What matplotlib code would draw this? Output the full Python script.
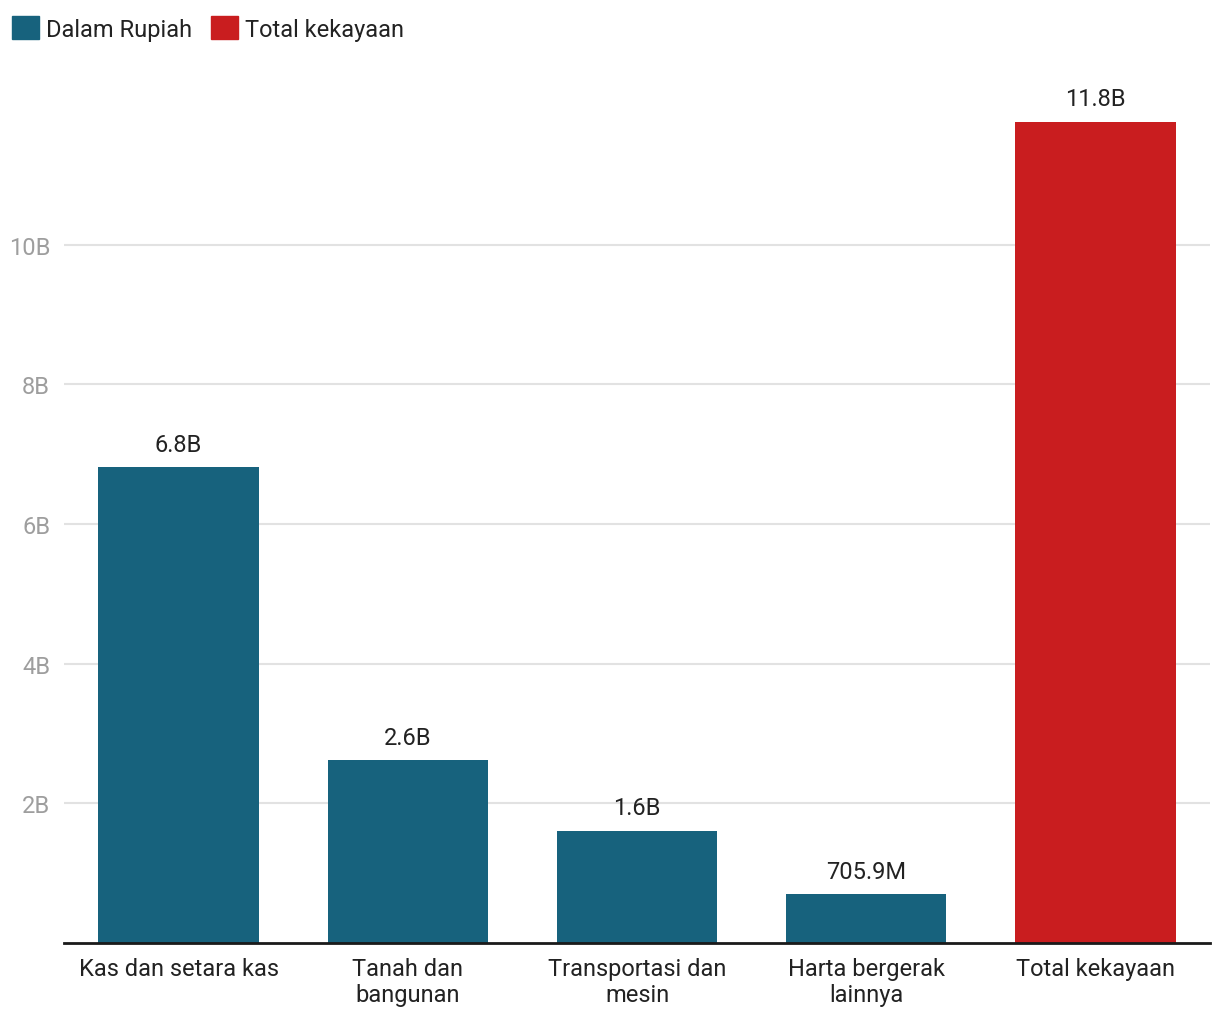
import numpy as np
import matplotlib.pyplot as plt
from matplotlib.patches import Patch

plt.rcParams['font.family'] = ['Roboto', 'DejaVu Sans']

categories = ["Kas dan setara kas", "Tanah dan\nbangunan", "Transportasi dan\nmesin",
              "Harta bergerak\nlainnya", "Total kekayaan"]
values = [6.82, 2.62, 1.61, 0.7059, 11.76]
value_labels = ["6.8B", "2.6B", "1.6B", "705.9M", "11.8B"]
yticks = [2, 4, 6, 8, 10]
ytick_labels = ["2B", "4B", "6B", "8B", "10B"]

blue = "#17627d"
red = "#c91d1f"
colors = [blue, blue, blue, blue, red]

fig = plt.figure(figsize=(12.2, 10.2), dpi=100)
ax = fig.add_axes([0.0525, 0.0745, 0.9393, 0.856])

x = np.arange(len(categories))
ax.bar(x, values, width=0.7, color=colors, zorder=3)
for xi, v, lab in zip(x, values, value_labels):
    ax.annotate(lab, (xi, v), xytext=(0, 8), textcoords="offset points",
                ha="center", va="bottom", fontsize=17, color="#222222")

ax.set_xlim(-0.5, 4.5)
ax.set_ylim(0, 12.5)
ax.set_yticks(yticks)
ax.set_yticklabels(ytick_labels)
ax.set_xticks(x)
ax.set_xticklabels(categories, fontsize=17, color="#222222", linespacing=1.2)
ax.tick_params(axis="y", length=0, pad=10, labelsize=17, labelcolor="#9e9e9e")
ax.tick_params(axis="x", length=0, pad=10)
ax.grid(axis="y", color="#e2e2e2", linewidth=1.5, zorder=0)
for s in ["top", "right", "left"]:
    ax.spines[s].set_visible(False)
ax.spines["bottom"].set_linewidth(2)
ax.spines["bottom"].set_color("#1a1a1a")
ax.spines["bottom"].set_zorder(4)

handles = [Patch(color=blue, label="Dalam Rupiah"), Patch(color=red, label="Total kekayaan")]
fig.legend(handles=handles, loc="upper left", bbox_to_anchor=(0.0, 0.995), ncol=2,
           frameon=False, fontsize=17, handlelength=1.15, handleheight=1.15,
           handletextpad=0.3, columnspacing=0.8, borderaxespad=0.3,
           borderpad=0.2, labelcolor="#222222")

fig.savefig("out.png", dpi=100)
